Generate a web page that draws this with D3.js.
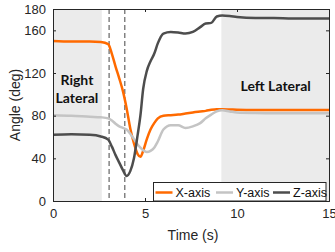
<!DOCTYPE html>
<html>
<head>
<meta charset="utf-8">
<script src="https://cdn.jsdelivr.net/npm/d3@7"></script>
<style>
body { margin: 0; background: #fff; }
svg { display: block; font-family: "Liberation Sans", Arial, sans-serif; }
</style>
</head>
<body>
<script>
var w = 335
var h = 252
var margin = {top: 9, right: 6, bottom: 51, left: 53}

// data
var time = [0, 1, 2, 2.6, 3, 3.2, 3.4, 3.6, 3.8, 4, 4.2, 4.4, 4.6, 4.75, 4.9, 5.1, 5.3, 5.5, 5.7, 6, 6.4, 6.8, 7.2, 7.6, 8, 8.3, 8.6, 8.9, 9.2, 9.6, 10, 11, 12, 13, 14, 15]
var xAxisVals = [150, 149.5, 149.5, 149, 147, 138, 126, 115, 103, 87, 68, 54, 44, 41.5, 47, 58, 67, 73, 77.5, 80, 80.5, 81, 82, 83, 84, 84.5, 85.5, 86, 86, 85.8, 85.5, 85.3, 85.3, 85.3, 85.3, 85.3]
var yAxisVals = [80.5, 80, 79, 78.5, 77.5, 75.5, 72.5, 70, 68.5, 67, 63, 58, 53, 50, 47.5, 46, 47, 50, 56, 67, 71, 71, 68.5, 70, 73, 77.5, 81, 84, 85, 84, 83, 82.5, 82.3, 82.3, 82.3, 82.3]
var zAxisVals = [62, 62.5, 62, 60.5, 57.5, 51, 43, 36, 29, 23.5, 28, 40, 62, 80, 105, 122, 131, 138, 148, 157, 158.5, 158, 157, 158.5, 163, 166.5, 167, 173, 174, 173.5, 172.5, 171.5, 171.5, 171, 171, 171]

var seriesNames = ["X-axis", "Y-axis", "Z-axis"]
var seriesColors = ["#ff6a00", "#c4c4c4", "#4d4d4d"]

var xTicks = [0, 5, 10, 15]
var yTicks = [0, 40, 80, 120, 160, 180]

var bands = [[0, 2.65], [9.15, 15]]
var bandLabels = [["Right", "Lateral"], ["Left Lateral"]]
var markers = [3.05, 3.9]

var iw = w - margin.left - margin.right
var ih = h - margin.top - margin.bottom

var svg = d3.select("body")
    .append("svg")
    .attr("width", w)
    .attr("height", h)

var g = svg.append("g")
    .attr("transform", "translate(" + margin.left + "," + margin.top + ")")

var x = d3.scaleLinear().domain([0, 15]).range([0, iw])
var y = d3.scaleLinear().domain([0, 180]).range([ih, 0])

// shaded regions
g.selectAll("rect.band")
    .data(bands)
    .enter()
    .append("rect")
    .attr("class", "band")
    .attr("x", function(d) { return x(d[0]) })
    .attr("width", function(d) { return x(d[1]) - x(d[0]) })
    .attr("y", 0)
    .attr("height", ih)
    .style("fill", "#ebebeb")

// dashed markers
g.selectAll("line.marker")
    .data(markers)
    .enter()
    .append("line")
    .attr("x1", function(d) { return x(d) })
    .attr("x2", function(d) { return x(d) })
    .attr("y1", 0)
    .attr("y2", ih)
    .style("stroke", "#7a7a7a")
    .style("stroke-width", 1.4)
    .style("stroke-dasharray", "5,3")

var series = [xAxisVals, yAxisVals, zAxisVals]

var line = d3.line()
    .x(function(d, i) { return x(time[i]) })
    .y(function(d) { return y(d) })
    .curve(d3.curveMonotoneX)

g.selectAll("path.series")
    .data(series)
    .enter()
    .append("path")
    .attr("d", line)
    .style("fill", "none")
    .style("stroke", function(d, i) { return seriesColors[i] })
    .style("stroke-width", 2.5)
    .style("stroke-linejoin", "round")

// band labels
var lblText = g.append("text")
    .attr("x", x(1.3))
    .attr("y", y(109))
    .attr("text-anchor", "middle")
    .style("font-family", "Lato, sans-serif")
    .style("font-weight", "bold")
    .style("font-size", "14px")
    .style("fill", "#111")
lblText.selectAll("tspan")
    .data(bandLabels[0])
    .enter()
    .append("tspan")
    .attr("x", x(1.3))
    .attr("dy", function(d, i) { return i == 0 ? 0 : 18 })
    .text(function(d) { return d })

g.append("text")
    .attr("x", x(12.1))
    .attr("y", y(103))
    .attr("text-anchor", "middle")
    .style("font-family", "Lato, sans-serif")
    .style("font-weight", "bold")
    .style("font-size", "14px")
    .style("fill", "#111")
    .text(bandLabels[1][0])

// axes (MATLAB-like box, ticks inside)
var axColor = "#262626"
var xAxis = g.append("g")
    .attr("transform", "translate(0," + ih + ")")
    .call(d3.axisBottom(x).tickValues(xTicks).tickSize(-3).tickPadding(8))
var xTop = g.append("g")
    .call(d3.axisTop(x).tickValues(xTicks).tickSize(-3).tickFormat(""))
var yAxis = g.append("g")
    .call(d3.axisLeft(y).tickValues(yTicks).tickSize(-3).tickPadding(7))
var yRight = g.append("g")
    .attr("transform", "translate(" + iw + ",0)")
    .call(d3.axisRight(y).tickValues(yTicks).tickSize(-3).tickFormat(""))

g.selectAll(".domain").style("stroke", axColor)
g.selectAll(".tick line").style("stroke", axColor)
g.selectAll(".tick text")
    .style("font-family", "Liberation Sans, Arial, sans-serif")
    .style("font-size", "13px")
    .style("fill", axColor)

svg.selectAll(".domain").attr("d", function() { return d3.select(this).attr("d").replace(/V-?3/g, "V0") })

// axis labels
svg.append("text")
    .attr("x", margin.left + iw / 2 + 2)
    .attr("y", 240)
    .attr("text-anchor", "middle")
    .style("font-size", "14px")
    .style("fill", axColor)
    .text("Time (s)")

svg.append("text")
    .attr("transform", "translate(20," + (margin.top + ih / 2) + ") rotate(-90)")
    .attr("text-anchor", "middle")
    .style("font-size", "14px")
    .style("fill", axColor)
    .text("Angle (deg)")

// legend
var legend = svg.append("g")
    .attr("transform", "translate(153.5,182.5)")
legend.append("rect")
    .attr("width", 172.5)
    .attr("height", 18.5)
    .style("fill", "#fff")
    .style("stroke", axColor)
    .style("stroke-width", 1)

var legX = [2, 62.5, 119.5]
var item = legend.selectAll("g.item")
    .data(seriesNames)
    .enter()
    .append("g")
    .attr("transform", function(d, i) { return "translate(" + legX[i] + ",0)" })
item.append("line")
    .attr("x1", 0)
    .attr("x2", 17)
    .attr("y1", 10)
    .attr("y2", 10)
    .style("stroke", function(d, i) { return seriesColors[i] })
    .style("stroke-width", 2.5)
item.append("text")
    .attr("x", 20)
    .attr("y", 14.5)
    .style("font-size", "12.5px")
    .style("fill", "#111")
    .text(function(d) { return d })
</script>
</body>
</html>
